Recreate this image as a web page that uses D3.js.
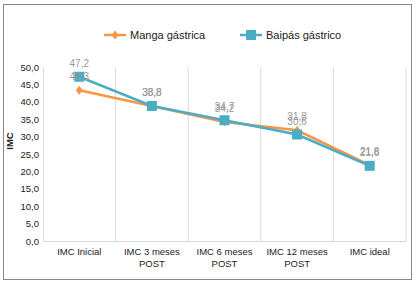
<!DOCTYPE html>
<html lang="es">
  <head>
    <meta charset="UTF-8" />
    <title>IMC – Manga vs Baipás gástrico</title>
    <script src="https://d3js.org/d3.v7.min.js"></script>
    <style>
      body {
        margin: 0;
        background: #fff;
        font-family: 'Liberation Sans', Arial, sans-serif;
      }
      svg {
        display: block;
      }
    </style>
  </head>
  <body>
    <svg width="418" height="287"></svg>

    <script>
      const categories = [
        ['IMC Inicial'],
        ['IMC 3 meses', 'POST'],
        ['IMC 6 meses', 'POST'],
        ['IMC 12 meses', 'POST'],
        ['IMC ideal'],
      ];
      const manga = [43.3, 38.8, 34.2, 31.8, 21.8];
      const baipas = [47.2, 38.8, 34.7, 30.6, 21.6];
      const yTicks = [0, 5, 10, 15, 20, 25, 30, 35, 40, 45, 50];

      const series = [
        { name: 'Manga gástrica', values: manga, color: '#F79646', shape: 'diamond' },
        { name: 'Baipás gástrico', values: baipas, color: '#4BACC6', shape: 'square' },
      ];

      const svg = d3.select('svg');
      const margin = { top: 67, right: 12, bottom: 46, left: 43 },
        width = 418 - margin.left - margin.right,
        height = 287 - margin.top - margin.bottom;

      // outer border
      svg
        .append('rect')
        .attr('x', 3.5)
        .attr('y', 4.5)
        .attr('width', 408)
        .attr('height', 275)
        .attr('fill', '#fff')
        .attr('stroke', '#888')
        .attr('stroke-width', 1);

      const g = svg
        .append('g')
        .attr('transform', `translate(${margin.left},${margin.top})`);

      const idx = d3.range(categories.length);
      const x = d3.scaleBand().domain(idx).range([0, width]);
      const y = d3.scaleLinear().domain([0, 50]).range([height, 0]);

      // vertical gridlines at band boundaries
      g.selectAll('.grid')
        .data(idx.slice(1).concat([categories.length]))
        .join('line')
        .attr('x1', (d) => (d < categories.length ? x(d) : width))
        .attr('x2', (d) => (d < categories.length ? x(d) : width))
        .attr('y1', 0)
        .attr('y2', height)
        .attr('stroke', '#d9d9d9')
        .attr('stroke-width', 1);

      // y axis
      const yAxis = g
        .append('g')
        .call(
          d3
            .axisLeft(y)
            .tickValues(yTicks)
            .tickSize(0)
            .tickPadding(4)
            .tickFormat((d) => d.toFixed(1).replace('.', ',')),
        );
      yAxis.select('.domain').attr('stroke', '#d9d9d9');
      yAxis
        .selectAll('text')
        .attr('font-size', 9.5)
        .attr('fill', '#222')
        .attr('font-family', 'Liberation Sans, Arial, sans-serif');

      // x axis
      const xAxis = g
        .append('g')
        .attr('transform', `translate(0,${height})`)
        .call(d3.axisBottom(x).tickSize(0).tickFormat(''));
      xAxis.select('.domain').attr('stroke', '#d9d9d9');
      xAxis
        .selectAll('.tick')
        .append('text')
        .attr('text-anchor', 'middle')
        .attr('fill', '#222')
        .attr('font-size', 9.5)
        .attr('font-family', 'Liberation Sans, Arial, sans-serif')
        .each(function (d) {
          const t = d3.select(this);
          categories[d].forEach((line, i) => {
            t.append('tspan')
              .attr('x', 0)
              .attr('y', 14 + i * 12)
              .text(line);
          });
        });

      // y title
      g.append('text')
        .attr('transform', 'rotate(-90)')
        .attr('x', -height / 2 + 13)
        .attr('y', -30)
        .attr('text-anchor', 'middle')
        .attr('font-size', 9.5)
        .attr('font-weight', 'bold')
        .attr('fill', '#222')
        .text('IMC');

      const line = d3
        .line()
        .x((d, i) => x(i) + x.bandwidth() / 2)
        .y((d) => y(d));

      function marker(sel, s, cx, cy) {
        if (s.shape === 'square') {
          sel
            .append('rect')
            .attr('x', cx - 5)
            .attr('y', cy - 5)
            .attr('width', 10)
            .attr('height', 10)
            .attr('fill', s.color);
        } else {
          sel
            .append('path')
            .attr('d', `M${cx},${cy - 4.5}L${cx + 3.5},${cy}L${cx},${cy + 4.5}L${cx - 3.5},${cy}Z`)
            .attr('fill', s.color);
        }
      }

      series.forEach((s) => {
        g.append('path')
          .datum(s.values)
          .attr('d', line)
          .attr('fill', 'none')
          .attr('stroke', s.color)
          .attr('stroke-width', 2.5);
        s.values.forEach((v, i) => {
          marker(g, s, x(i) + x.bandwidth() / 2, y(v));
        });
      });

      // data labels
      series.forEach((s) => {
        g.selectAll(null)
          .data(s.values)
          .join('text')
          .attr('x', (d, i) => x(i) + x.bandwidth() / 2)
          .attr('y', (d) => y(d) - 10)
          .attr('text-anchor', 'middle')
          .attr('font-size', 10)
          .attr('fill', '#999')
          .text((d) => d.toFixed(1).replace('.', ','));
      });

      // legend
      const legendX = [104, 240];
      series.forEach((s, i) => {
        const lg = svg.append('g').attr('transform', `translate(${legendX[i]},35)`);
        lg.append('line')
          .attr('x1', 0)
          .attr('x2', 22)
          .attr('stroke', s.color)
          .attr('stroke-width', 2.5);
        marker(lg, s, 11, 0);
        lg.append('text')
          .attr('x', 26)
          .attr('y', 4)
          .attr('font-size', 11)
          .attr('fill', '#222')
          .text(s.name);
      });
    </script>
  </body>
</html>
